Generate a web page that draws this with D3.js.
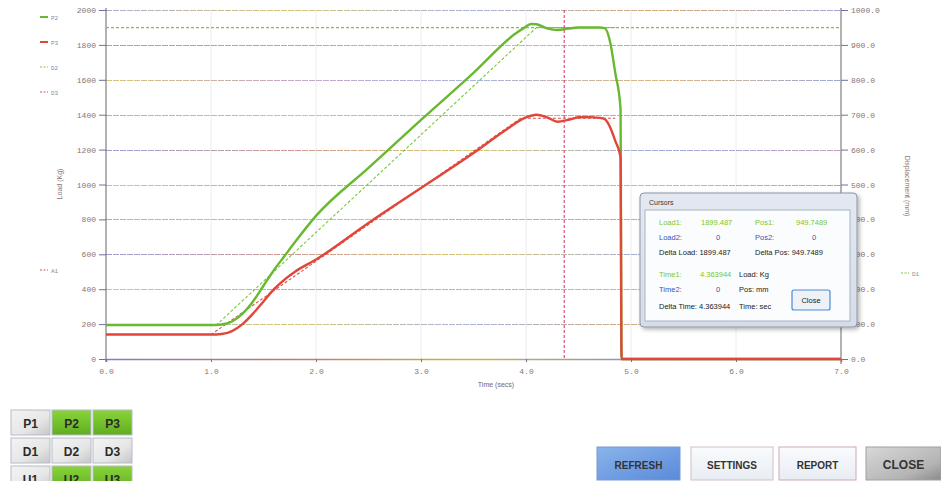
<!DOCTYPE html>
<html><head><meta charset="utf-8">
<script src="https://cdnjs.cloudflare.com/ajax/libs/d3/7.8.5/d3.min.js"></script>
<style>
body{margin:0;background:#fff;overflow:hidden}
svg{display:block}
</style></head>
<body>
<script>
// ---- data ----
const timeTicks = [0,1,2,3,4,5,6,7];
const loadTicks = [0,200,400,600,800,1000,1200,1400,1600,1800,2000];
const posTicks = [0,100,200,300,400,500,600,700,800,900,1000];

const p2Time = [0,1.0,1.1,1.2,1.3,1.4,1.5,1.6,1.7,1.8,2.0,2.5,3.0,3.5,3.9,4.0,4.05,4.1,4.2,4.3,4.4,4.5,4.6,4.7,4.75,4.8,4.85,4.9,4.91,7.0];
const p2Load = [195,195,198,215,260,330,420,510,590,670,820,1095,1370,1640,1865,1905,1920,1918,1895,1885,1893,1900,1900,1900,1896,1820,1640,1440,0,0];

const p3Time = [0,1.0,1.1,1.2,1.3,1.4,1.5,1.6,1.7,1.8,2.0,2.5,3.0,3.5,3.8,4.0,4.1,4.2,4.3,4.4,4.5,4.6,4.7,4.75,4.8,4.85,4.9,4.91,7.0];
const p3Load = [140,140,143,160,200,260,330,400,455,500,570,780,980,1180,1310,1385,1400,1385,1360,1370,1385,1386,1382,1375,1330,1250,1160,0,0];

const d2Time = [0,1.05,4.1,4.85];
const d2Pos = [97,97,950,950];

const d3Time = [0,1.0,3.95,4.85];
const d3Pos = [70,70,690,690];

const cursorTime = 4.363944;
const cursorLoad = 1899.487;

const legendLeft = ["P2","P3","D2","D3"];
const buttonRows = [["P1","P2","P3"],["D1","D2","D3"],["U1","U2","U3"]];
const activeButtons = ["P2","P3","U2","U3"];
const bottomButtons = ["REFRESH","SETTINGS","REPORT","CLOSE"];

// ---- drawing ----
const W = 941, H = 481;
const svg = d3.select("body").append("svg").attr("width", W).attr("height", H);
const defs = svg.append("defs");

const x = d3.scaleLinear().domain([0,7]).range([106,841]);
const yL = d3.scaleLinear().domain([0,2000]).range([359,10]);
const yR = d3.scaleLinear().domain([0,1000]).range([359,10]);

// gradients for grid lines
const gradSets = [
  ["#9a90c0","#c8b34a","#8a98d0","#c89048","#8a88c8"],
  ["#c9b34a","#b08ab0","#8f9ad8","#d0a050","#7f8cd0"],
  ["#7f7fc8","#c07a70","#c9b548","#8090d0","#b07ab0"]
];
gradSets.forEach((stops,i)=>{
  const g = defs.append("linearGradient").attr("id","g"+i)
    .attr("gradientUnits","userSpaceOnUse").attr("x1",106).attr("x2",841).attr("y1",0).attr("y2",0);
  stops.forEach((c,j)=>g.append("stop").attr("offset", j/(stops.length-1)).attr("stop-color", c));
});

const shadow = defs.append("filter").attr("id","sh").attr("x","-10%").attr("y","-10%").attr("width","130%").attr("height","130%");
shadow.append("feDropShadow").attr("dx",2).attr("dy",2).attr("stdDeviation",2).attr("flood-color","#000").attr("flood-opacity",0.3);

// vertical faint grid
svg.append("g").selectAll("line").data(timeTicks.slice(1,-1)).join("line")
  .attr("x1",d=>x(d)).attr("x2",d=>x(d)).attr("y1",10).attr("y2",359)
  .attr("stroke","#ececf2").attr("stroke-width",1);

// horizontal grid
svg.append("g").selectAll("line").data(loadTicks.slice(1)).join("line")
  .attr("x1",106).attr("x2",841).attr("y1",d=>Math.round(yL(d))+0.5).attr("y2",d=>Math.round(yL(d))+0.5)
  .attr("stroke",(d,i)=>`url(#g${i%3})`).attr("stroke-width",1).attr("stroke-dasharray","6,1").attr("opacity",0.75);

// axes
const tickFont = "'Liberation Mono', monospace";
const tickColor = "#8a7474";
const leftAxis = svg.append("g").attr("transform","translate(106,0)")
  .call(d3.axisLeft(yL).tickValues(loadTicks).tickSize(7).tickPadding(3).tickFormat(d3.format("d")));
const rightAxis = svg.append("g").attr("transform","translate(841,0)")
  .call(d3.axisRight(yR).tickValues(posTicks).tickSize(7).tickPadding(3).tickFormat(d3.format(".1f")));
const bottomAxis = svg.append("g").attr("transform","translate(0,359)")
  .call(d3.axisBottom(x).tickValues(timeTicks).tickSize(3).tickPadding(6).tickFormat(d3.format(".1f")));
[leftAxis,rightAxis,bottomAxis].forEach(a=>{
  a.select(".domain").attr("stroke","#666").attr("stroke-width",1);
  a.selectAll(".tick line").attr("stroke","#7070a0");
  a.selectAll(".tick text").attr("fill",tickColor).style("font-family",tickFont).style("font-size","8px");
});
leftAxis.select(".domain").attr("d","M0,8V362");
rightAxis.select(".domain").attr("d","M0,8V364");
bottomAxis.select(".domain").attr("stroke","url(#g2)").attr("stroke-width",1.5);

// axis titles
svg.append("text").attr("transform","translate(62,184) rotate(-90)").attr("text-anchor","middle")
  .style("font-family","'Liberation Sans',sans-serif").style("font-size","7px").attr("fill","#8a7474").text("Load (Kg)");
svg.append("text").attr("transform","translate(905,186) rotate(90)").attr("text-anchor","middle")
  .style("font-family","'Liberation Sans',sans-serif").style("font-size","7px").attr("fill","#8a7474").text("Displacement (mm)");
svg.append("text").attr("x",496).attr("y",387).attr("text-anchor","middle")
  .style("font-family","'Liberation Sans',sans-serif").style("font-size","7px").attr("fill","#6a6a7a").text("Time (secs)");

// series
const lineR = d3.line().x(d=>x(d[0])).y(d=>yR(d[1]));
const zip = (a,b)=>a.map((v,i)=>[v,b[i]]);

// cursor horizontal line
svg.append("line").attr("x1",106).attr("x2",841).attr("y1",yL(cursorLoad)).attr("y2",yL(cursorLoad))
  .attr("stroke","#7cc43c").attr("stroke-width",1.2).attr("stroke-dasharray","3,2");

svg.append("path").datum(zip(d3Time,d3Pos)).attr("d",lineR).attr("fill","none")
  .attr("stroke","#e0504a").attr("stroke-width",1.1).attr("stroke-dasharray","3,2");
svg.append("path").datum(zip(d2Time,d2Pos)).attr("d",lineR).attr("fill","none")
  .attr("stroke","#78c83a").attr("stroke-width",1.1).attr("stroke-dasharray","3,2");

const smooth = d3.line().x(d=>x(d[0])).y(d=>yL(d[1])).curve(d3.curveMonotoneX);
svg.append("path").datum(zip(p2Time,p2Load)).attr("d",smooth).attr("fill","none")
  .attr("stroke","#68b830").attr("stroke-width",2.4).attr("stroke-linejoin","round");
svg.append("path").datum(zip(p3Time,p3Load)).attr("d",smooth).attr("fill","none")
  .attr("stroke","#e0473a").attr("stroke-width",2.4).attr("stroke-linejoin","round");

// cursor vertical
svg.append("line").attr("x1",x(cursorTime)).attr("x2",x(cursorTime)).attr("y1",10).attr("y2",359)
  .attr("stroke","#e0406a").attr("stroke-width",1.1).attr("stroke-dasharray","3,2");

// legends
const legColors = ["#68b830","#e0473a","#78c83a","#e0504a"];
const legDash = [null,null,"2,1.5","2,1.5"];
legendLeft.forEach((t,i)=>{
  const yy = 17 + i*25;
  svg.append("line").attr("x1",40).attr("x2",48).attr("y1",yy).attr("y2",yy)
    .attr("stroke",legColors[i]).attr("stroke-width",i<2?2:1.2).attr("stroke-dasharray",legDash[i]);
  svg.append("text").attr("x",51).attr("y",yy+2.5).style("font-family",tickFont).style("font-size","6px")
    .attr("fill","#8a8a9a").text(t);
});
svg.append("line").attr("x1",40).attr("x2",48).attr("y1",270).attr("y2",270)
  .attr("stroke","#e0504a").attr("stroke-width",1.2).attr("stroke-dasharray","2,1.5");
svg.append("text").attr("x",51).attr("y",272.5).style("font-family",tickFont).style("font-size","6px").attr("fill","#8a8a9a").text("A1");
svg.append("line").attr("x1",901).attr("x2",909).attr("y1",273).attr("y2",273)
  .attr("stroke","#78c83a").attr("stroke-width",1.2).attr("stroke-dasharray","2,1.5");
svg.append("text").attr("x",912).attr("y",275.5).style("font-family",tickFont).style("font-size","6px").attr("fill","#8a8a9a").text("D1");

// cursor box
const bg = defs.append("linearGradient").attr("id","boxg").attr("x1",0).attr("x2",0).attr("y1",0).attr("y2",1);
bg.append("stop").attr("offset",0).attr("stop-color","#e4e9f1");
bg.append("stop").attr("offset",1).attr("stop-color","#d6dde8");
const box = svg.append("g");
box.append("rect").attr("x",640).attr("y",193).attr("width",217).attr("height",134).attr("rx",4)
  .attr("fill","url(#boxg)").attr("stroke","#8c93a6").attr("filter","url(#sh)");
box.append("rect").attr("x",645).attr("y",210).attr("width",205).attr("height",111)
  .attr("fill","#fbfcfd").attr("stroke","#aab3c4");
box.append("text").attr("x",649).attr("y",205).text("Cursors")
  .style("font-family","'Liberation Sans',sans-serif").style("font-size","7px").attr("fill","#333");
const bt = (xx,yy,t,c,anchor)=>box.append("text").attr("x",xx).attr("y",yy).text(t)
  .attr("text-anchor",anchor||"start")
  .style("font-family","'Liberation Sans',sans-serif").style("font-size","7.5px").attr("fill",c);
const G="#78c828", B="#3a52b8", K="#222";
bt(659,225,"Load1:",G); bt(701,225,d3.format(".3f")(cursorLoad),G);
bt(755,225,"Pos1:",G); bt(796,225,"949.7489",G);
bt(659,240,"Load2:",B); bt(716,240,"0",B); bt(755,240,"Pos2:",B); bt(812,240,"0",B);
bt(659,255,"Delta Load: 1899.487",K); bt(755,255,"Delta Pos:  949.7489",K);
bt(659,277,"Time1:",G); bt(700,277,d3.format(".6f")(cursorTime),G); bt(739,277,"Load: Kg",K);
bt(659,292,"Time2:",B); bt(716,292,"0",B); bt(739,292,"Pos: mm",K);
bt(659,309,"Delta Time: 4.363944",K); bt(739,309,"Time: sec",K);
box.append("rect").attr("x",792).attr("y",290).attr("width",38).attr("height",20).attr("rx",2)
  .attr("fill","#eef2f7").attr("stroke","#4a8ad8").attr("stroke-width",1.2);
bt(811,302.5,"Close",K,"middle");

// button grid
const bgG = defs.append("linearGradient").attr("id","btnGreen").attr("x1",0).attr("x2",0).attr("y1",0).attr("y2",1);
bgG.append("stop").attr("offset",0).attr("stop-color","#8ad43a");
bgG.append("stop").attr("offset",1).attr("stop-color","#5fae20");
const bgW = defs.append("linearGradient").attr("id","btnGray").attr("x1",0).attr("x2",1).attr("y1",0).attr("y2",1);
bgW.append("stop").attr("offset",0).attr("stop-color","#f4f4f4");
bgW.append("stop").attr("offset",0.6).attr("stop-color","#e6e6e6");
bgW.append("stop").attr("offset",1).attr("stop-color","#c6c6c6");
buttonRows.forEach((row,r)=>row.forEach((t,c)=>{
  const bx = 11 + c*41, by = 410 + r*28;
  const act = activeButtons.includes(t);
  svg.append("rect").attr("x",bx).attr("y",by).attr("width",39).attr("height",25)
    .attr("fill",act?"url(#btnGreen)":"url(#btnGray)").attr("stroke","#b8bccc");
  svg.append("text").attr("x",bx+19.5).attr("y",by+18).attr("text-anchor","middle")
    .style("font-family","'Liberation Sans',sans-serif").style("font-size","12px").style("font-weight","bold")
    .attr("fill","#2a2a2a").text(t);
}));

// bottom buttons
const gBlue = defs.append("linearGradient").attr("id","btnBlue").attr("x1",0).attr("x2",1).attr("y1",0).attr("y2",1);
gBlue.append("stop").attr("offset",0).attr("stop-color","#8ab4ec");
gBlue.append("stop").attr("offset",1).attr("stop-color","#5a8ad8");
const gLight = defs.append("linearGradient").attr("id","btnLight").attr("x1",0).attr("x2",0).attr("y1",0).attr("y2",1);
gLight.append("stop").attr("offset",0).attr("stop-color","#fafbfd");
gLight.append("stop").attr("offset",1).attr("stop-color","#e8edf3");
const gDark = defs.append("linearGradient").attr("id","btnDark").attr("x1",0).attr("x2",1).attr("y1",0).attr("y2",1);
gDark.append("stop").attr("offset",0).attr("stop-color","#d8d8d8");
gDark.append("stop").attr("offset",0.7).attr("stop-color","#b4b4b4");
gDark.append("stop").attr("offset",1).attr("stop-color","#8a8a8a");
const bbX = [597,691,779,866], bbW = [83,82,77,75];
const bbFill = ["url(#btnBlue)","url(#btnLight)","url(#btnLight)","url(#btnDark)"];
const bbStroke = ["#7a9ad0","#d0c0c8","#d0a8b8","#a0a0a0"];
bottomButtons.forEach((t,i)=>{
  svg.append("rect").attr("x",bbX[i]).attr("y",447).attr("width",bbW[i]).attr("height",33)
    .attr("fill",bbFill[i]).attr("stroke",bbStroke[i]);
  svg.append("text").attr("x",bbX[i]+bbW[i]/2).attr("y",469).attr("text-anchor","middle")
    .style("font-family","'Liberation Sans',sans-serif").style("font-size",i===3?"12px":"10px").style("font-weight","bold")
    .attr("fill","#333").text(t);
});
</script>
</body></html>
